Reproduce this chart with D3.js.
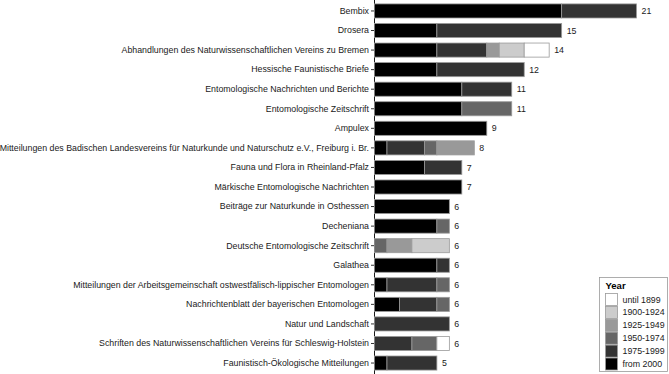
<!DOCTYPE html>
<html>
<head>
<meta charset="utf-8">
<script src="https://cdn.jsdelivr.net/npm/d3@7"></script>
<style>
  body { margin: 0; background: #fff; }
  svg { display: block; font-family: "Liberation Sans", Arial, sans-serif; }
</style>
</head>
<body>
<svg id="main"></svg>
<script>
// journals, top to bottom
let journals = ["Bembix", "Drosera", "Abhandlungen des Naturwissenschaftlichen Vereins zu Bremen",
  "Hessische Faunistische Briefe", "Entomologische Nachrichten und Berichte", "Entomologische Zeitschrift",
  "Ampulex", "Mitteilungen des Badischen Landesvereins für Naturkunde und Naturschutz e.V., Freiburg i. Br.",
  "Fauna und Flora in Rheinland-Pfalz", "Märkische Entomologische Nachrichten", "Beiträge zur Naturkunde in Osthessen",
  "Decheniana", "Deutsche Entomologische Zeitschrift", "Galathea",
  "Mitteilungen der Arbeitsgemeinschaft ostwestfälisch-lippischer Entomologen",
  "Nachrichtenblatt der bayerischen Entomologen", "Natur und Landschaft",
  "Schriften des Naturwissenschaftlichen Vereins für Schleswig-Holstein", "Faunistisch-Ökologische Mitteilungen"];

// counts per period (same order as journals)
let from2000 = [15, 5, 5, 5, 7, 7, 9, 1, 4, 7, 6, 5, 0, 5, 1, 2, 0, 0, 1];
let y1975 = [6, 10, 4, 7, 4, 0, 0, 3, 3, 0, 0, 0, 0, 1, 4, 3, 6, 3, 4];
let y1950 = [0, 0, 0, 0, 0, 4, 0, 1, 0, 0, 0, 1, 1, 0, 1, 1, 0, 2, 0];
let y1925 = [0, 0, 1, 0, 0, 0, 0, 3, 0, 0, 0, 0, 2, 0, 0, 0, 0, 0, 0];
let y1900 = [0, 0, 2, 0, 0, 0, 0, 0, 0, 0, 0, 0, 3, 0, 0, 0, 0, 0, 0];
let until1899 = [0, 0, 2, 0, 0, 0, 0, 0, 0, 0, 0, 0, 0, 0, 0, 0, 0, 1, 0];

let periods = ["from 2000", "1975-1999", "1950-1974", "1925-1949", "1900-1924", "until 1899"];
let legendOrder = ["until 1899", "1900-1924", "1925-1949", "1950-1974", "1975-1999", "from 2000"];
let fills = ["#000000", "#333333", "#666666", "#999999", "#cccccc", "#ffffff"];

const FONT = "'Liberation Sans', Arial, sans-serif";

const drawChart = () => {
  let W = 669, H = 374;
  let svg = d3.select("#main").attr("width", W).attr("height", H);

  let series = [from2000, y1975, y1950, y1925, y1900, until1899];
  let rows = journals.map(function(j, i) {
    let r = {name: j};
    periods.forEach(function(p, k) { r[p] = series[k][i]; });
    return r;
  });
  let stack = d3.stack().keys(periods)(rows);

  let x = d3.scaleLinear().domain([0, 21]).range([374.5, 636.5]);
  let y = d3.scaleBand().domain(journals).range([0, 374]).paddingInner(0.28).paddingOuter(0.2);
  let color = d3.scaleOrdinal().domain(periods).range(fills);

  // axis
  let ax = svg.append("g")
    .attr("transform", "translate(374,0)")
    .call(d3.axisLeft(y).tickSize(3).tickSizeOuter(0));
  ax.select(".domain").attr("d", "M0.5,0V374").attr("stroke", "#1a1a1a");
  ax.selectAll(".tick line").attr("stroke", "#333").attr("x1", 0.5);
  ax.selectAll(".tick text").attr("x", -5).style("font-size", "8.8px").attr("fill", "#1a1a1a")
    .style("font-family", FONT);

  // bars
  svg.append("g").selectAll("g")
    .data(stack)
    .enter()
    .append("g")
    .attr("fill", function(d) { return color(d.key); })
    .selectAll("rect")
    .data(function(d) { return d.filter(function(s) { return s[1] > s[0]; }); })
    .enter()
    .append("rect")
    .attr("x", function(d) { return x(d[0]); })
    .attr("y", function(d) { return y(d.data.name); })
    .attr("width", function(d) { return x(d[1]) - x(d[0]); })
    .attr("height", y.bandwidth())
    .attr("stroke", "#9a9a9a")
    .attr("stroke-width", 0.8);

  // totals
  svg.append("g").selectAll("text")
    .data(rows)
    .enter()
    .append("text")
    .attr("x", function(d) { return x(d3.sum(periods, function(p) { return d[p]; })) + 5; })
    .attr("y", function(d) { return y(d.name) + y.bandwidth() / 2; })
    .attr("dy", "0.35em")
    .style("font-size", "8.8px")
    .style("font-family", FONT)
    .attr("fill", "#1a1a1a")
    .text(function(d) { return d3.sum(periods, function(p) { return d[p]; }); });

  // legend
  let lg = svg.append("g").attr("transform", "translate(599.5,277.5)")
    .style("font-family", FONT);
  lg.append("rect").attr("width", 68).attr("height", 94)
    .attr("fill", "#fff").attr("stroke", "#999").attr("stroke-width", 0.8);
  lg.append("text").attr("x", 6).attr("y", 11).style("font-size", "9.5px")
    .style("font-weight", "bold").text("Year");
  let item = lg.selectAll("g.item")
    .data(legendOrder)
    .enter()
    .append("g")
    .attr("class", "item")
    .attr("transform", function(d, i) { return "translate(6," + (16 + i * 12.9) + ")"; });
  item.append("rect").attr("width", 12).attr("height", 12)
    .attr("fill", function(d) { return color(d); })
    .attr("stroke", "#9a9a9a").attr("stroke-width", 0.8);
  item.append("text").attr("x", 17).attr("y", 6).attr("dy", "0.35em")
    .style("font-size", "8.8px").attr("fill", "#1a1a1a").text(function(d) { return d; });
};

drawChart();
</script>
</body>
</html>
